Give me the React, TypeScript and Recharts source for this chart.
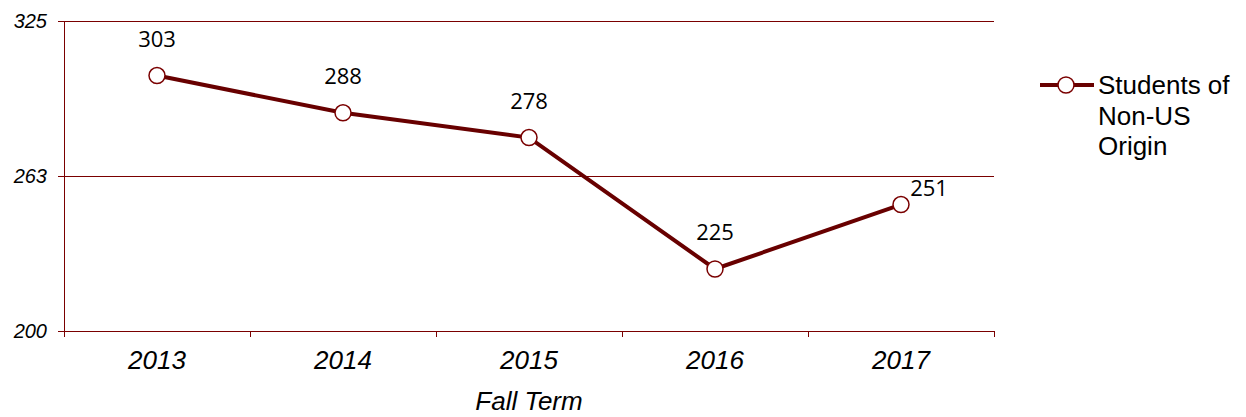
import React from 'react';
import { LineChart, Line, XAxis, YAxis, CartesianGrid, LabelList } from 'recharts';

const years = ['2013', '2014', '2015', '2016', '2017'];
const students = [303, 288, 278, 225, 251];
const yTicks = [200, 262.5, 325];
const seriesName = 'Students of Non-US Origin';
const axisLabel = 'Fall Term';

const data = years.map((year, i) => ({ year, value: students[i] }));

const GRID = '#7a0000';
const LINE = '#680000';
const FONT = '"Liberation Sans", Arial, sans-serif';

const XTick = (props: any) => {
  const { x, y, payload, width, visibleTicksCount, index } = props;
  const half = width / visibleTicksCount / 2;
  const last = index === visibleTicksCount - 1;
  return (
    <g>
      <line x1={x - half} x2={x - half} y1={y} y2={y + 6} stroke={GRID} strokeWidth={1} shapeRendering="crispEdges" />
      {last && <line x1={x + half} x2={x + half} y1={y} y2={y + 6} stroke={GRID} strokeWidth={1} shapeRendering="crispEdges" />}
      <text x={x} y={y + 20} dy="0.71em" textAnchor="middle" fontSize={26} fontStyle="italic" fontFamily={FONT} fill="#000">
        {payload.value}
      </text>
    </g>
  );
};

const renderLabel = (props: any) => {
  const { x, y, value, index } = props;
  const last = index === students.length - 1;
  return (
    <text
      x={x + (last ? 28 : 0)}
      y={y - (last ? 18 : 38)}
      textAnchor="middle"
      dominantBaseline="central"
      fontFamily='"Open Sans", sans-serif'
      fontSize={22}
      fill="#000"
    >
      {value}
    </text>
  );
};

export default function App() {
  return (
    <div style={{ position: 'absolute', left: 0, top: 0, width: 1246, height: 417, background: '#fff', fontFamily: FONT }}>
      <LineChart width={1246} height={417} data={data} margin={{ top: 21, right: 252, bottom: 0, left: 0 }}>
        <CartesianGrid vertical={false} stroke={GRID} strokeWidth={1} shapeRendering="crispEdges" />
        <XAxis
          dataKey="year"
          scale="band"
          height={86}
          axisLine={{ stroke: GRID, shapeRendering: 'crispEdges' }}
          tickLine={false}
          tickSize={0}
          tickMargin={0}
          interval={0}
          tick={<XTick />}
          label={{ value: axisLabel, position: 'insideBottom', offset: 7, fontSize: 26, fontStyle: 'italic', fill: '#000', fontFamily: FONT }}
        />
        <YAxis
          width={64}
          domain={[200, 325]}
          ticks={yTicks}
          interval={0}
          tickFormatter={(v: number) => String(Math.round(v))}
          axisLine={{ stroke: GRID, shapeRendering: 'crispEdges' }}
          tickLine={{ stroke: GRID, shapeRendering: 'crispEdges' }}
          tickSize={6}
          tickMargin={11}
          tick={{ fontSize: 20, fontStyle: 'italic', fill: '#000', fontFamily: FONT }}
        />
        <Line
          type="linear"
          dataKey="value"
          name={seriesName}
          stroke={LINE}
          strokeWidth={4}
          dot={{ r: 8, fill: '#fff', stroke: '#7a0000', strokeWidth: 1.5 }}
          isAnimationActive={false}
        >
          <LabelList dataKey="value" content={renderLabel} />
        </Line>
      </LineChart>
      <div style={{ position: 'absolute', left: 1040, top: 70, display: 'flex', alignItems: 'flex-start' }}>
        <svg width={56} height={30} style={{ flex: 'none' }}>
          <line x1={0} x2={54} y1={15} y2={15} stroke={LINE} strokeWidth={4} />
          <circle cx={26} cy={15} r={8} fill="#fff" stroke="#7a0000" strokeWidth={1.5} />
        </svg>
        <div style={{ width: 140, fontSize: 26, lineHeight: '30.5px', color: '#000', marginLeft: 2 }}>{seriesName}</div>
      </div>
    </div>
  );
}
